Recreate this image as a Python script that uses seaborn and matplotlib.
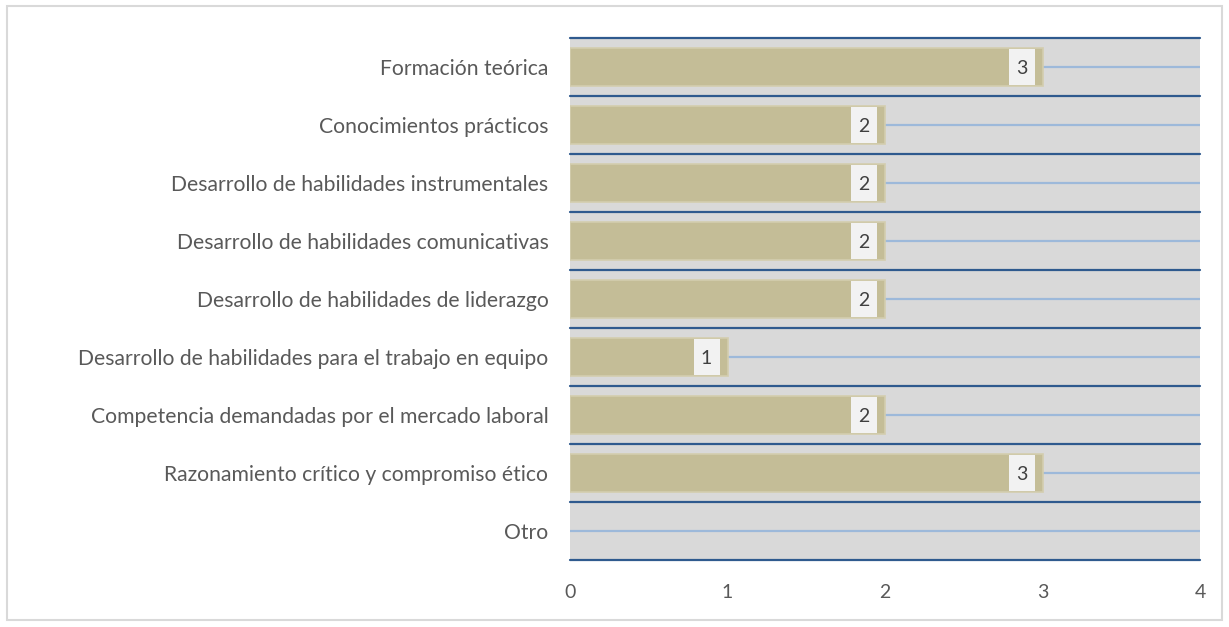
import matplotlib
matplotlib.use("Agg")
import matplotlib.pyplot as plt
import seaborn as sns
import pandas as pd
from matplotlib.patches import Rectangle

categories = [
    "Formación teórica",
    "Conocimientos prácticos",
    "Desarrollo de habilidades instrumentales",
    "Desarrollo de habilidades comunicativas",
    "Desarrollo de habilidades de liderazgo",
    "Desarrollo de habilidades para el trabajo en equipo",
    "Competencia demandadas por el mercado laboral",
    "Razonamiento crítico y compromiso ético",
    "Otro",
]
values = [3, 2, 2, 2, 2, 1, 2, 3, 0]
x_ticks = [0, 1, 2, 3, 4]

sns.set_style("white")
plt.rcParams["font.family"] = ["Lato", "DejaVu Sans"]

df = pd.DataFrame({"cat": categories, "val": values})

fig = plt.figure(figsize=(12.29, 6.27), dpi=100)
ax = fig.add_axes([570 / 1229, 1 - 560 / 627, 630 / 1229, 522 / 627])
ax.set_facecolor("#D9D9D9")

# light blue center lines
for i in range(len(categories)):
    ax.axhline(i, color="#9DB9DA", lw=1.6, zorder=0.5)

sns.barplot(data=df, x="val", y="cat", orient="h", color="#C4BD97",
            width=0.66, ax=ax, saturation=1, edgecolor="#D3CDAE",
            linewidth=1.2, zorder=2)
for p in ax.patches:
    if p.get_width() == 0:
        p.set_visible(False)

# dark boundary lines
for i in range(len(categories) + 1):
    ax.axhline(i - 0.5, color="#2F5A8E", lw=1.6, zorder=3, clip_on=False)

ax.set_xlim(0, 4)
ax.set_ylim(len(categories) - 0.5, -0.5)
ax.set_xticks(x_ticks)
ax.set_xticklabels([str(t) for t in x_ticks])
ax.set_xlabel("")
ax.set_ylabel("")
for s in ax.spines.values():
    s.set_visible(False)
ax.tick_params(axis="y", length=0, pad=15.5, labelsize=15.2, labelcolor="#595959")
ax.tick_params(axis="x", length=0, pad=17, labelsize=14, labelcolor="#595959")

# data labels in light boxes at the bar ends
ppu = (630 / 4)  # pixels per x unit
gap, bw = 8 / ppu, 26 / ppu
for i, v in enumerate(values):
    if v > 0:
        ax.add_patch(Rectangle((v - gap - bw, i - 0.31), bw, 0.62,
                               fc="#F2F2F2", ec="none", zorder=4))
        ax.text(v - gap - bw / 2, i + 0.02, str(v), ha="center", va="center",
                fontsize=14, color="#404040", zorder=5)

fig.add_artist(Rectangle((7 / 1229, 1 - 620 / 627), 1215 / 1229, 614 / 627,
                         transform=fig.transFigure, fill=False,
                         edgecolor="#D9D9D9", lw=1.5))

fig.savefig("out.png", dpi=100)
